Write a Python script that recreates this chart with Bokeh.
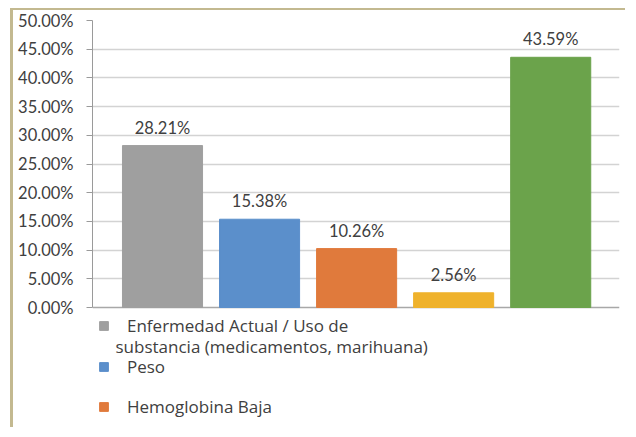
from bokeh.plotting import figure
from bokeh.models import (Range1d, NumeralTickFormatter, FixedTicker, ColumnDataSource,
                          LabelSet, Legend, LegendItem, Grid, Label)
from bokeh.core.properties import value
from bokeh.embed import file_html
from bokeh.resources import INLINE

# ---- data ----
values = [0.2821, 0.1538, 0.1026, 0.0256, 0.4359]
bar_colors = ["#9f9f9f", "#5b8fcb", "#e07a3c", "#efb22c", "#6ba34b"]
legend_labels = [
    "Enfermedad Actual / Uso de",
    "Peso",
    "Hemoglobina Baja",
]
legend_wrap = "substancia (medicamentos, marihuana)"   # wrapped 2nd line of item 1
y_ticks = [0.0, 0.05, 0.10, 0.15, 0.20, 0.25, 0.30, 0.35, 0.40, 0.45, 0.50]

FONT = "Lato"
LFONT = "Open Sans"
TXT = "#404040"
TAN = "#c3b990"

x = list(range(len(values)))
src = ColumnDataSource(dict(
    x=x, top=values, color=bar_colors,
    lab=[f"{v * 100:.2f}%" for v in values],
))

p = figure(width=615, height=419, output_backend="svg", toolbar_location=None,
           x_range=Range1d(-0.7213, 4.7089), y_range=Range1d(-0.21254, 0.5),
           min_border_left=79, min_border_top=10, min_border_right=9,
           min_border_bottom=0)
p.styles = {"margin-left": "10px", "margin-top": "8px",
            "border-left": f"3px solid {TAN}", "border-top": f"2px solid {TAN}"}
p.outline_line_color = None
p.background_fill_color = "white"
p.border_fill_color = "white"
p.xaxis.visible = False

bars = p.vbar(x="x", top="top", width=0.825, color="color", source=src)

p.add_layout(LabelSet(x="x", y="top", text="lab", source=src, y_offset=18,
                      text_align="center", text_baseline="middle",
                      text_font=value(FONT), text_font_size="16.5px", text_color=TXT))

# y axis
ya = p.yaxis[0]
ya.ticker = FixedTicker(ticks=y_ticks)
ya.bounds = (y_ticks[0], y_ticks[-1])
ya.formatter = NumeralTickFormatter(format="0.00%")
ya.major_tick_out = 6
ya.major_tick_in = 0
ya.minor_tick_line_color = None
ya.axis_line_color = "#9a9a9a"
ya.major_tick_line_color = "#9a9a9a"
ya.major_label_standoff = 13
ya.major_label_text_font = FONT
ya.major_label_text_font_size = "16.5px"
ya.major_label_text_color = TXT

p.xgrid.grid_line_color = None
p.ygrid.ticker = FixedTicker(ticks=y_ticks[1:])
p.ygrid.grid_line_color = "#d3d3d3"
p.ygrid.grid_line_width = 1.5
base = Grid(dimension=1, ticker=FixedTicker(ticks=y_ticks[:1]),
            grid_line_color="#a8a8a8", grid_line_width=1.5)
p.add_layout(base)

# legends (three separate blocks, as laid out in the original)
locs = [(6, 92.5), (6, 51.5), (6, 11.5)]
for i, lab in enumerate(legend_labels):
    lg = Legend(items=[LegendItem(label=lab, renderers=[bars], index=i)],
                location=locs[i], padding=0, margin=0, spacing=0,
                glyph_width=11, glyph_height=11, label_standoff=18,
                label_text_font=LFONT, label_text_font_size="17px",
                label_text_color=TXT, border_line_color=None,
                background_fill_alpha=0)
    p.add_layout(lg, "center")

p.add_layout(Label(x=23, y=83, x_units="screen", y_units="screen", text=legend_wrap,
                   text_font=LFONT, text_font_size="17px", text_color=TXT,
                   text_baseline="middle", text_align="left"))

open("out.html", "w").write(file_html(p, INLINE))
